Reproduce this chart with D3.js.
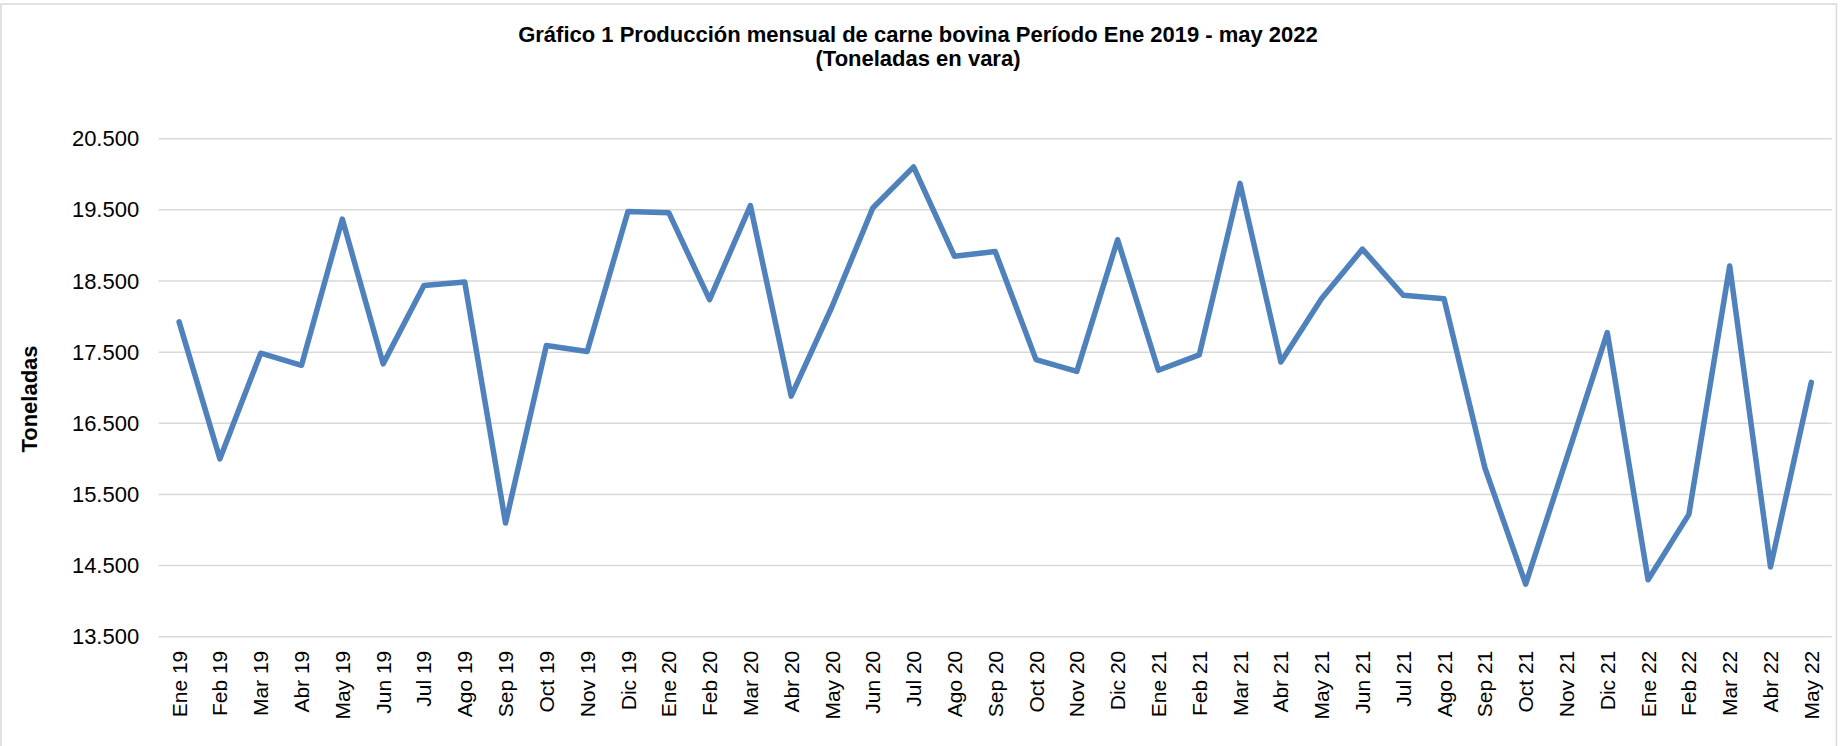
<!DOCTYPE html>
<html>
<head>
<meta charset="utf-8">
<script src="https://cdn.jsdelivr.net/npm/d3@7"></script>
<style>
  html, body { margin: 0; padding: 0; background: #fff; }
  svg { display: block; font-family: "Liberation Sans", Arial, sans-serif; }
</style>
</head>
<body>
<svg id="chart" width="1843" height="746"></svg>
<script>
const categories = ["Ene 19","Feb 19","Mar 19","Abr 19","May 19","Jun 19","Jul 19","Ago 19","Sep 19","Oct 19","Nov 19","Dic 19",
  "Ene 20","Feb 20","Mar 20","Abr 20","May 20","Jun 20","Jul 20","Ago 20","Sep 20","Oct 20","Nov 20","Dic 20",
  "Ene 21","Feb 21","Mar 21","Abr 21","May 21","Jun 21","Jul 21","Ago 21","Sep 21","Oct 21","Nov 21","Dic 21",
  "Ene 22","Feb 22","Mar 22","Abr 22","May 22"];
const production = [17925,16000,17485,17315,19370,17335,18436,18485,15098,17593,17510,19477,
  19460,18237,19559,16882,18138,19526,20104,18849,18915,17395,17229,19080,
  17245,17461,19873,17362,18254,18948,18300,18250,15875,14240,16000,17775,
  14300,15220,18710,14480,17075];
const yTicks = [13500,14500,15500,16500,17500,18500,19500,20500];
const titleLines = ["Gráfico 1 Producción mensual de carne bovina Período Ene 2019 - may 2022", "(Toneladas en vara)"];
const yTitle = "Toneladas";

const W = 1843, H = 746;
const margin = {left: 158.7, right: W - 1831.7, top: 138.7, bottom: H - 636.7};
const svg = d3.select("#chart");

// chart border
svg.append("rect").attr("x", 1).attr("y", 4).attr("width", 1835.5).attr("height", 780)
  .attr("fill", "none").attr("stroke", "#d9d9d9").attr("stroke-width", 1.5);

const x = d3.scaleBand().domain(categories).range([margin.left, W - margin.right]).padding(0);
const y = d3.scaleLinear().domain([13500, 20500]).range([H - margin.bottom, margin.top]);

const fmt = d => d3.format(",")(d).replace(/,/g, ".");

// gridlines
svg.append("g").selectAll("line").data(yTicks).join("line")
  .attr("x1", margin.left).attr("x2", W - margin.right)
  .attr("y1", d => y(d)).attr("y2", d => y(d))
  .attr("stroke", "#d9d9d9").attr("stroke-width", 1.5);

// y axis
const yAxis = svg.append("g").attr("transform", `translate(${margin.left},0)`)
  .call(d3.axisLeft(y).tickValues(yTicks).tickFormat(fmt).tickSize(0).tickPadding(19.5));
yAxis.select(".domain").remove();
yAxis.selectAll("text").attr("font-size", 22).attr("fill", "#000")
  .attr("font-family", "'Liberation Sans', Arial, sans-serif");

// x axis
const xAxis = svg.append("g").attr("transform", `translate(0,${H - margin.bottom})`)
  .call(d3.axisBottom(x).tickSize(0).tickPadding(0));
xAxis.select(".domain").remove();
xAxis.selectAll("text")
  .attr("font-size", 21).attr("fill", "#000")
  .attr("font-family", "'Liberation Sans', Arial, sans-serif")
  .attr("text-anchor", "end")
  .attr("transform", "rotate(-90)")
  .attr("x", -14).attr("y", 0).attr("dy", "0.36em");

// line
const line = d3.line().x((d, i) => x(categories[i]) + x.bandwidth() / 2).y(d => y(d));
svg.append("path").datum(production).attr("d", line)
  .attr("fill", "none").attr("stroke", "#4f81bd").attr("stroke-width", 5.5)
  .attr("stroke-linejoin", "round").attr("stroke-linecap", "round");

// title
svg.append("text").attr("x", 918).attr("y", 42).attr("text-anchor", "middle")
  .attr("font-size", 22).attr("font-weight", "bold")
  .selectAll("tspan").data(titleLines).join("tspan")
  .attr("x", 918).attr("dy", (d, i) => i === 0 ? 0 : 24).text(d => d);

// y title
svg.append("text").attr("transform", "translate(37,399) rotate(-90)")
  .attr("text-anchor", "middle").attr("font-size", 22).attr("font-weight", "bold").text(yTitle);
</script>
</body>
</html>
